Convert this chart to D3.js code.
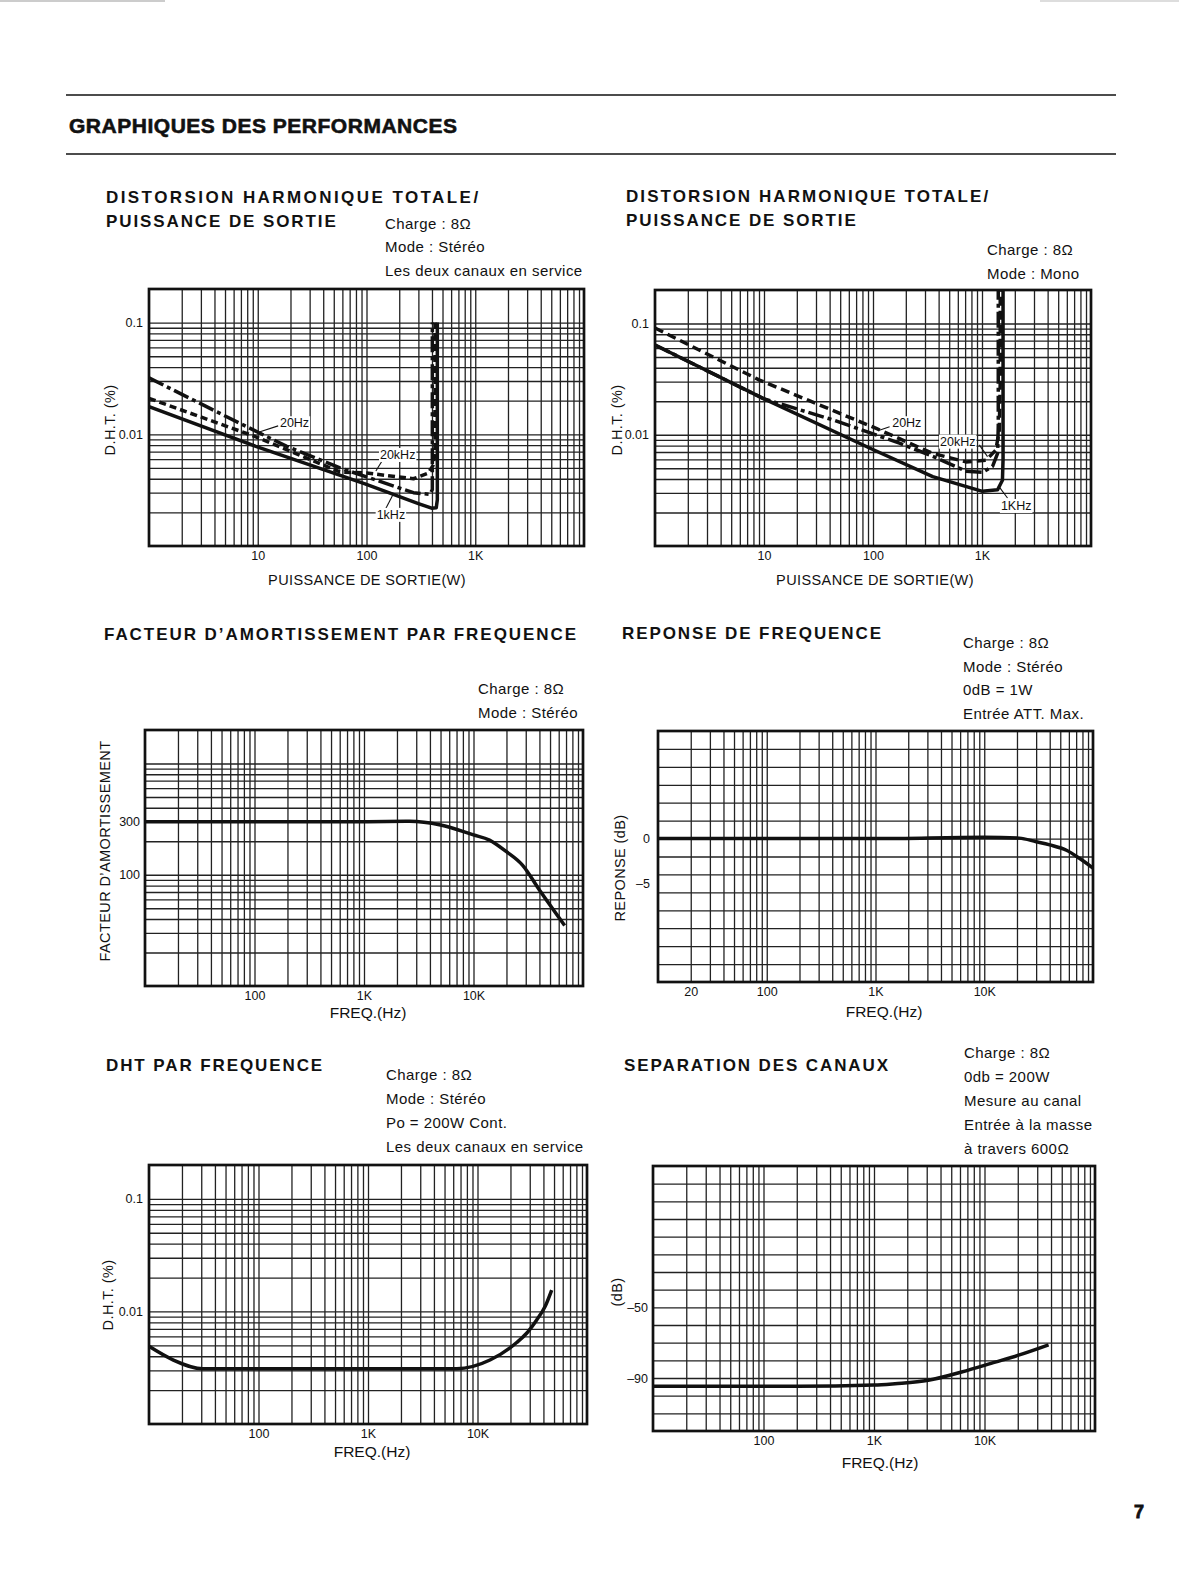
<!DOCTYPE html>
<html>
<head>
<meta charset="utf-8">
<script src="https://cdn.jsdelivr.net/npm/d3@7"></script>
<style>
  body { margin: 0; background: #fff; }
  svg { display: block; font-family: "Liberation Sans", Arial, sans-serif; fill: #111; }
  .grid line { stroke: #222; stroke-width: 1.3; }
  .grid .domain { display: none; }
  .ticks .domain, .ticks line { display: none; }
  .ticks text { font-size: 12.5px; fill: #111; font-family: "Liberation Sans", Arial, sans-serif; }
  .frame { fill: none; stroke: #111; stroke-width: 2.7; }
  .curve { fill: none; stroke: #111; stroke-width: 3.5; stroke-linejoin: round; }
  .leader { stroke: #111; stroke-width: 1.1; }
  .heading { font-size: 17px; font-weight: bold; letter-spacing: 1.9px; }
  .note { font-size: 15px; letter-spacing: 0.45px; }
  .axtitle { font-size: 14.5px; letter-spacing: 0.4px; }
  .freq { font-size: 15.5px; }
  .tag { font-size: 12.5px; }
</style>
</head>
<body>
<div id="page"></div>
<script>
  // DHT / puissance de sortie, stéréo (W, %)
  const st1kW    = [1, 9.6, 97, 300, 397, 438, 448, 448];
  const st1kThd  = [0.0177, 0.0078, 0.0036, 0.0024, 0.00218, 0.0022, 0.0026, 0.1];
  const st20kW   = [1, 9.6, 57, 100, 270, 370, 411, 426, 426];
  const st20kThd = [0.021, 0.0095, 0.0046, 0.0045, 0.0040, 0.0045, 0.0053, 0.0068, 0.1];
  const st20W    = [1, 6.9, 18.5, 57, 270, 384, 403, 403];
  const st20Thd  = [0.032, 0.0125, 0.0078, 0.005, 0.003, 0.0029, 0.0032, 0.1];

  // DHT / puissance de sortie, mono (W, %)
  const mo1kW    = [1, 9.8, 93, 353, 1010, 1390, 1540, 1560, 1560];
  const mo1kThd  = [0.064, 0.0212, 0.0076, 0.0042, 0.0031, 0.0032, 0.0039, 0.006, 0.2];
  const mo20W    = [1, 9.1, 107, 353, 713, 1090, 1340, 1440, 1470, 1470];
  const mo20Thd  = [0.091, 0.031, 0.0114, 0.0068, 0.0057, 0.0059, 0.0073, 0.011, 0.03, 0.2];
  const mo20kW   = [1, 10, 43, 175, 353, 713, 1010, 1250, 1390, 1410, 1410];
  const mo20kThd = [0.064, 0.021, 0.0136, 0.0084, 0.0064, 0.0047, 0.0046, 0.0052, 0.0068, 0.012, 0.2];

  // facteur d'amortissement (Hz, facteur)
  const dampF   = [10, 1000, 2600, 5000, 10000, 14000, 20000, 28000, 40000, 68000];
  const dampVal = [300, 300, 302, 280, 228, 205, 161, 122, 73, 35];

  // réponse de fréquence (Hz, dB)
  const respF  = [10, 1000, 10000, 21000, 30000, 40000, 57000, 75000, 100000];
  const respDb = [0, 0, 0.15, 0.05, -0.35, -0.7, -1.3, -2.2, -3.3];

  // DHT par fréquence (Hz, %)
  const thdF   = [10, 16.7, 31, 6460, 13000, 22800, 28100, 34700, 41300, 47600];
  const thdVal = [0.0049, 0.0037, 0.0031, 0.0031, 0.0037, 0.0053, 0.0064, 0.0084, 0.011, 0.0155];

  // séparation des canaux (Hz, dB)
  const sepF  = [10, 200, 1000, 1550, 3100, 6200, 12500, 20000, 38000];
  const sepDb = [-94.7, -94.7, -94, -93.2, -91.3, -86.6, -81, -77.2, -71.2];

  // tick labels
  const powerTicks = [10, 100, 1000];
  const powerLabels = ['10', '100', '1K'];
  const thdTicks = [0.1, 0.01];
  const thdLabels = ['0.1', '0.01'];
  const freqTicks = [100, 1000, 10000];
  const freqLabels = ['100', '1K', '10K'];
  const respFreqTicks = [20, 100, 1000, 10000];
  const respFreqLabels = ['20', '100', '1K', '10K'];
  const dampTicks = [300, 100];
  const dampLabels = ['300', '100'];
  const respTicks = [0, -5];
  const respLabels = ['0', '–5'];
  const sepTicks = [-50, -90];
  const sepLabels = ['–50', '–90'];

  // curve tags
  const stTags = ['20Hz', '20kHz', '1kHz'];
  const moTags = ['20Hz', '20kHz', '1KHz'];

  const svg = d3.select('#page').append('svg')
    .attr('width', 1179)
    .attr('height', 1576);

  function logGrid(lo, hi) {
    const v = [];
    for (let e = Math.floor(Math.log10(lo)); e <= Math.ceil(Math.log10(hi)); e++) {
      for (let k = 1; k < 10; k++) {
        const t = +(k * Math.pow(10, e)).toPrecision(2);
        if (t > lo * 1.001 && t < hi / 1.001) v.push(t);
      }
    }
    return v;
  }

  function text(x, y, s, cls, anchor) {
    return svg.append('text')
      .attr('x', x).attr('y', y)
      .attr('class', cls)
      .attr('text-anchor', anchor || 'start')
      .text(s);
  }

  function panel(o) {
    const g = svg.append('g');
    const x = d3.scaleLog().domain(o.xDomain).range([o.left, o.right]);
    const y = (o.yLog ? d3.scaleLog() : d3.scaleLinear()).domain(o.yDomain).range([o.bottom, o.top]);

    g.append('g').attr('class', 'grid')
      .attr('transform', `translate(0,${o.bottom})`)
      .call(d3.axisBottom(x).tickValues(logGrid(o.xDomain[0], o.xDomain[1]))
        .tickSize(-(o.bottom - o.top)).tickFormat(''));

    const yGrid = o.yLog ? logGrid(o.yDomain[0], o.yDomain[1])
      : d3.range(o.yDomain[0] + o.yStep, o.yDomain[1], o.yStep);
    g.append('g').attr('class', 'grid')
      .attr('transform', `translate(${o.left},0)`)
      .call(d3.axisLeft(y).tickValues(yGrid)
        .tickSize(-(o.right - o.left)).tickFormat(''));

    g.append('rect').attr('class', 'frame')
      .attr('x', o.left).attr('y', o.top)
      .attr('width', o.right - o.left).attr('height', o.bottom - o.top);

    g.append('g').attr('class', 'ticks')
      .attr('transform', `translate(0,${o.bottom})`)
      .call(d3.axisBottom(x).tickValues(o.xTicks)
        .tickFormat((d, i) => o.xLabels[i]).tickSize(0).tickPadding(5));

    g.append('g').attr('class', 'ticks')
      .attr('transform', `translate(${o.left},0)`)
      .call(d3.axisLeft(y).tickValues(o.yTicks)
        .tickFormat((d, i) => o.yLabels[i]).tickSize(0).tickPadding(o.yPad || 6));

    const line = d3.line().x(d => x(d[0])).y(d => y(d[1]));
    o.series.forEach(s => {
      g.append('path')
        .datum(d3.zip(s.xs, s.ys))
        .attr('class', 'curve')
        .attr('stroke-dasharray', s.dash || null)
        .attr('d', line.curve(s.smooth ? d3.curveMonotoneX : d3.curveLinear));
    });

    (o.tags || []).forEach(t => {
      g.append('line').attr('class', 'leader')
        .attr('x1', x(t.from[0])).attr('y1', y(t.from[1]))
        .attr('x2', x(t.to[0])).attr('y2', y(t.to[1]));
      const lab = g.append('text').attr('class', 'tag')
        .attr('x', x(t.at[0])).attr('y', y(t.at[1]))
        .attr('dominant-baseline', 'central')
        .text(t.text);
      const b = lab.node().getBBox();
      g.insert('rect', () => lab.node())
        .attr('x', b.x - 1).attr('y', b.y)
        .attr('width', b.width + 2).attr('height', b.height)
        .attr('fill', '#fff');
    });

    svg.append('text').attr('class', 'axtitle')
      .attr('transform', `translate(${o.yTitle[0]},${o.yTitle[1]}) rotate(-90)`)
      .attr('text-anchor', 'middle').attr('dominant-baseline', 'central')
      .text(o.yTitle[2]);
    text(o.xTitle[0], o.xTitle[1], o.xTitle[2], o.xTitle[3] || 'axtitle', 'middle');
  }

  // page header
  svg.append('line').attr('x1', 0).attr('x2', 165).attr('y1', 1).attr('y2', 1)
    .attr('stroke', '#999').attr('stroke-width', 1);
  svg.append('line').attr('x1', 1040).attr('x2', 1179).attr('y1', 1).attr('y2', 1)
    .attr('stroke', '#bbb').attr('stroke-width', 1);
  svg.append('line').attr('x1', 66).attr('x2', 1116).attr('y1', 95).attr('y2', 95)
    .attr('stroke', '#111').attr('stroke-width', 1.6);
  svg.append('line').attr('x1', 66).attr('x2', 1116).attr('y1', 154).attr('y2', 154)
    .attr('stroke', '#111').attr('stroke-width', 1.6);
  text(69, 133, 'GRAPHIQUES DES PERFORMANCES', 'main')
    .attr('font-size', 21).attr('font-weight', 'bold')
    .attr('stroke', '#111').attr('stroke-width', 0.6)
    .attr('textLength', 388).attr('lengthAdjust', 'spacing');
  text(1139, 1518, '7').attr('font-size', 18).attr('font-weight', 'bold')
    .attr('stroke', '#111').attr('stroke-width', 0.8).attr('text-anchor', 'middle');

  // 1 : DHT / puissance, stéréo
  text(106, 203, 'DISTORSION HARMONIQUE TOTALE/', 'heading')
    .attr('textLength', 374).attr('lengthAdjust', 'spacing');
  text(106, 227, 'PUISSANCE DE SORTIE', 'heading');
  text(385, 229, 'Charge : 8Ω', 'note');
  text(385, 252, 'Mode : Stéréo', 'note');
  text(385, 276, 'Les deux canaux en service', 'note');
  panel({
    left: 149, right: 584, top: 289, bottom: 546,
    xDomain: [1, 10000], yDomain: [0.001, 0.2], yLog: true,
    xTicks: powerTicks, xLabels: powerLabels, yTicks: thdTicks, yLabels: thdLabels,
    series: [
      { xs: st20W, ys: st20Thd, dash: '16,4,4,4' },
      { xs: st20kW, ys: st20kThd, dash: '7,4' },
      { xs: st1kW, ys: st1kThd }
    ],
    tags: [
      { text: stTags[0], at: [16, 0.01256], from: [15.4, 0.0119], to: [10.5, 0.01055] },
      { text: stTags[1], at: [133, 0.00653], from: [138, 0.0057], to: [122, 0.0047] },
      { text: stTags[2], at: [124, 0.0019], from: [176, 0.0029], to: [148, 0.0021] }
    ],
    yTitle: [110, 420, 'D.H.T. (%)'],
    xTitle: [367, 585, 'PUISSANCE DE SORTIE(W)']
  });

  // 2 : DHT / puissance, mono
  text(626, 202, 'DISTORSION HARMONIQUE TOTALE/', 'heading')
    .attr('textLength', 364).attr('lengthAdjust', 'spacing');
  text(626, 226, 'PUISSANCE DE SORTIE', 'heading');
  text(987, 255, 'Charge : 8Ω', 'note');
  text(987, 279, 'Mode : Mono', 'note');
  panel({
    left: 655, right: 1091, top: 290, bottom: 546,
    xDomain: [1, 10000], yDomain: [0.001, 0.2], yLog: true,
    xTicks: powerTicks, xLabels: powerLabels, yTicks: thdTicks, yLabels: thdLabels,
    series: [
      { xs: mo20W, ys: mo20Thd, dash: '9,5' },
      { xs: mo20kW, ys: mo20kThd, dash: '16,4,4,4' },
      { xs: mo1kW, ys: mo1kThd }
    ],
    tags: [
      { text: moTags[0], at: [150, 0.01268], from: [142, 0.0118], to: [111, 0.01086] },
      { text: moTags[1], at: [412, 0.00867], from: [944, 0.0081], to: [1124, 0.00635] },
      { text: moTags[2], at: [1490, 0.00229], from: [1438, 0.0034], to: [1714, 0.0027] }
    ],
    yTitle: [617, 420, 'D.H.T. (%)'],
    xTitle: [875, 585, 'PUISSANCE DE SORTIE(W)']
  });

  // 3 : facteur d'amortissement
  text(104, 640, 'FACTEUR D’AMORTISSEMENT PAR FREQUENCE', 'heading')
    .attr('textLength', 474).attr('lengthAdjust', 'spacing');
  text(478, 694, 'Charge : 8Ω', 'note');
  text(478, 718, 'Mode : Stéréo', 'note');
  panel({
    left: 145, right: 583, top: 730, bottom: 986,
    xDomain: [10, 100000], yDomain: [10, 2000], yLog: true, yPad: 5,
    xTicks: freqTicks, xLabels: freqLabels, yTicks: dampTicks, yLabels: dampLabels,
    series: [{ xs: dampF, ys: dampVal, smooth: true }],
    yTitle: [105, 851, 'FACTEUR D’AMORTISSEMENT'],
    xTitle: [368, 1018, 'FREQ.(Hz)', 'freq']
  });

  // 4 : réponse de fréquence
  text(622, 639, 'REPONSE DE FREQUENCE', 'heading');
  text(963, 648, 'Charge : 8Ω', 'note');
  text(963, 672, 'Mode : Stéréo', 'note');
  text(963, 695, '0dB = 1W', 'note');
  text(963, 719, 'Entrée ATT. Max.', 'note');
  panel({
    left: 658, right: 1093, top: 731, bottom: 982,
    xDomain: [10, 100000], yDomain: [-16, 12], yStep: 2, yPad: 8,
    xTicks: respFreqTicks, xLabels: respFreqLabels, yTicks: respTicks, yLabels: respLabels,
    series: [{ xs: respF, ys: respDb, smooth: true }],
    yTitle: [620, 868, 'REPONSE (dB)'],
    xTitle: [884, 1017, 'FREQ.(Hz)', 'freq']
  });

  // 5 : DHT par fréquence
  text(106, 1071, 'DHT PAR FREQUENCE', 'heading');
  text(386, 1080, 'Charge : 8Ω', 'note');
  text(386, 1104, 'Mode : Stéréo', 'note');
  text(386, 1128, 'Po = 200W Cont.', 'note');
  text(386, 1152, 'Les deux canaux en service', 'note');
  panel({
    left: 149, right: 587, top: 1165, bottom: 1424,
    xDomain: [10, 100000], yDomain: [0.001, 0.2], yLog: true,
    xTicks: freqTicks, xLabels: freqLabels, yTicks: thdTicks, yLabels: thdLabels,
    series: [{ xs: thdF, ys: thdVal, smooth: true }],
    yTitle: [108, 1295, 'D.H.T. (%)'],
    xTitle: [372, 1457, 'FREQ.(Hz)', 'freq']
  });

  // 6 : séparation des canaux
  text(624, 1071, 'SEPARATION DES CANAUX', 'heading');
  text(964, 1058, 'Charge : 8Ω', 'note');
  text(964, 1082, '0db = 200W', 'note');
  text(964, 1106, 'Mesure au canal', 'note');
  text(964, 1130, 'Entrée à la masse', 'note');
  text(964, 1154, 'à travers 600Ω', 'note');
  panel({
    left: 653, right: 1095, top: 1166, bottom: 1431,
    xDomain: [10, 100000], yDomain: [-120, 30], yStep: 10, yPad: 5,
    xTicks: freqTicks, xLabels: freqLabels, yTicks: sepTicks, yLabels: sepLabels,
    series: [{ xs: sepF, ys: sepDb, smooth: true }],
    yTitle: [617, 1292, '(dB)'],
    xTitle: [880, 1468, 'FREQ.(Hz)', 'freq']
  });
</script>
</body>
</html>
